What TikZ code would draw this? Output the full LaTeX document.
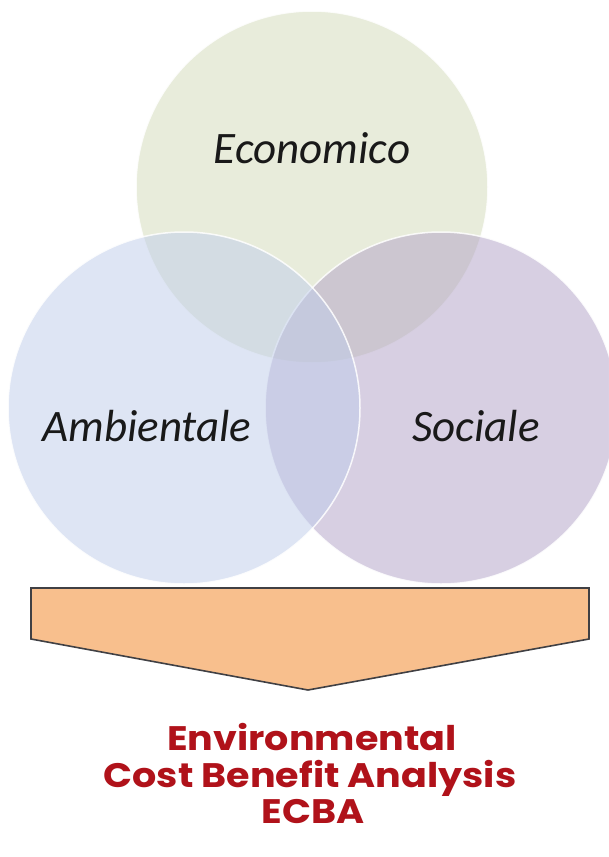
\documentclass[tikz,border=0pt]{standalone}
\usepackage{fontspec}
\newfontfamily\carlito{Carlito}
\newfontfamily\popp{Poppins}[FakeStretch=1.12]
\definecolor{topc}{RGB}{211,219,185}
\definecolor{leftc}{RGB}{191,205,235}
\definecolor{rightc}{RGB}{177,161,199}
\definecolor{arrowfill}{RGB}{248,191,141}
\definecolor{arrowline}{RGB}{64,64,68}
\definecolor{ecbared}{RGB}{176,18,26}
\tikzset{
  venn/.style={fill opacity=0.5, draw=white, draw opacity=0.85, line width=1.5pt},
  vennlabel/.style={anchor=base, inner sep=0pt, font=\carlito\itshape\fontsize{45}{54}\selectfont, text=black!90},
  ecbalabel/.style={anchor=base, inner sep=0pt, font=\popp\bfseries\fontsize{34}{40}\selectfont, text=ecbared},
  bigarrow/.style={fill=arrowfill, draw=arrowline, line width=1.6pt, line join=miter}
}
\begin{document}
\begin{tikzpicture}[x=1pt,y=-1pt]
\useasboundingbox (0,0) rectangle (608,857);
\fill[white] (0,0) rectangle (608,857);
% circles: top, right, left (left drawn last)
\fill[venn, fill=topc] (312,187) circle[radius=176pt];
\filldraw[venn, fill=rightc] (441,408) circle[radius=176pt];
\filldraw[venn, fill=leftc] (184,408) circle[radius=176pt];
\node[vennlabel] (eco) at (312,163) {Economico};
\node[vennlabel] (amb) at (147,441) {Ambientale};
\node[vennlabel] (soc) at (476,441) {Sociale};
% arrow
\draw[bigarrow] (31,588) -- (589,588) -- (589,639) -- (308,690) -- (31,639) -- cycle;
\node[ecbalabel] (l1) at (312,750) {Environmental};
\node[ecbalabel] (l2) at (310,787) {Cost Benefit Analysis};
\node[ecbalabel] (l3) at (313,823) {ECBA};
\end{tikzpicture}
\end{document}
